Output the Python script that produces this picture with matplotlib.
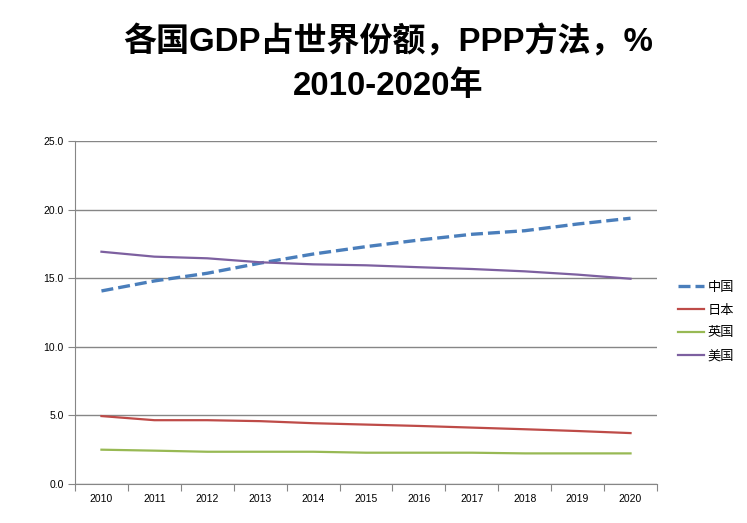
import matplotlib.pyplot as plt
from matplotlib.ticker import FixedLocator, NullFormatter, FixedFormatter

plt.rcParams['font.family'] = ['Liberation Sans', 'Noto Sans CJK SC']

years = ["2010", "2011", "2012", "2013", "2014", "2015", "2016", "2017", "2018", "2019", "2020"]
china = [14.07, 14.8, 15.36, 16.1, 16.76, 17.3, 17.78, 18.2, 18.46, 18.95, 19.37]
japan = [4.95, 4.65, 4.65, 4.58, 4.43, 4.33, 4.23, 4.11, 3.99, 3.86, 3.71]
uk = [2.5, 2.43, 2.35, 2.35, 2.35, 2.28, 2.28, 2.28, 2.23, 2.23, 2.23]
usa = [16.93, 16.57, 16.45, 16.16, 16.01, 15.94, 15.8, 15.67, 15.5, 15.26, 14.96]
names = ["中国", "日本", "英国", "美国"]
colors = ["#4A7EBB", "#BE4B48", "#98B954", "#7D60A0"]

fig = plt.figure(figsize=(7.47, 5.23), dpi=100)
ax = fig.add_axes([0.1004, 0.0746, 0.7791, 0.6558])

x = list(range(len(years)))
ax.plot(x, china, color=colors[0], lw=2.4, linestyle=(0, (3.6, 1.5)), label=names[0], zorder=3)
ax.plot(x, japan, color=colors[1], lw=1.6, label=names[1], zorder=3)
ax.plot(x, uk, color=colors[2], lw=1.6, label=names[2], zorder=3)
ax.plot(x, usa, color=colors[3], lw=1.6, label=names[3], zorder=3)

ax.set_xlim(-0.5, len(years) - 0.5)
ax.set_ylim(0, 25)
ax.set_yticks([0, 5, 10, 15, 20, 25])
ax.set_yticklabels(["0.0", "5.0", "10.0", "15.0", "20.0", "25.0"])
ax.yaxis.grid(True, color="#868686", lw=1)
ax.set_axisbelow(True)

ax.xaxis.set_major_locator(FixedLocator([i - 0.5 for i in range(len(years) + 1)]))
ax.xaxis.set_major_formatter(NullFormatter())
ax.xaxis.set_minor_locator(FixedLocator(x))
ax.xaxis.set_minor_formatter(FixedFormatter(years))
ax.tick_params(axis="x", which="major", length=5, color="#868686")
ax.tick_params(axis="x", which="minor", length=0, labelsize=7.5, pad=7)
ax.tick_params(axis="y", length=5, color="#868686", labelsize=7.5, pad=3)

for s in ["top", "right"]:
    ax.spines[s].set_visible(False)
for s in ["left", "bottom"]:
    ax.spines[s].set_color("#868686")

ax.legend(loc="upper left", bbox_to_anchor=(1.015, 0.625), frameon=False, fontsize=9.5,
          handlelength=2.0, labelspacing=0.8, handletextpad=0.3)

fig.text(0.519, 0.92, "各国GDP占世界份额，PPP方法，%", ha="center", va="center",
         fontsize=23.8, fontweight="bold", family=["Liberation Sans", "Noto Sans CJK SC"])
fig.text(0.519, 0.836, "2010-2020年", ha="center", va="center",
         fontsize=23.8, fontweight="bold", family=["Liberation Sans", "Noto Sans CJK SC"])

fig.savefig("out.png", dpi=100)
